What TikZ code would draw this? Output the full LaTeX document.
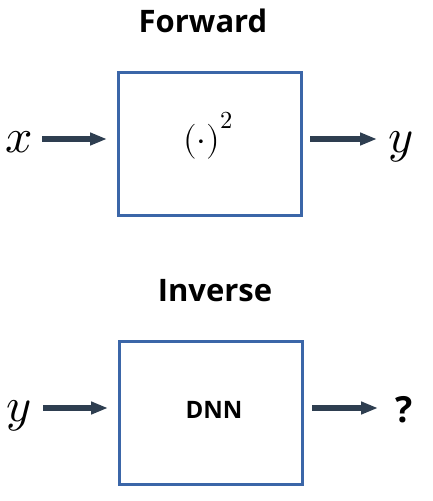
\documentclass[tikz,border=0pt]{standalone}
\usepackage{fontspec}
\setmainfont{Open Sans}
\usepackage{unicode-math}
\setmathfont{Latin Modern Math}
\usetikzlibrary{arrows.meta}
\definecolor{boxblue}{RGB}{59,102,168}
\definecolor{arrdark}{RGB}{46,62,80}
\tikzset{
  blk/.style={draw=boxblue, line width=3pt, minimum width=183pt, minimum height=143pt, inner sep=0pt},
  arr/.style={draw=arrdark, line width=6.5pt, -{Triangle[length=17pt,width=12pt]}},
  ttl/.style={font=\fontsize{31}{36}\selectfont\bfseries},
  var/.style={font=\fontsize{48}{52}\selectfont, anchor=base},
}
\begin{document}
\begin{tikzpicture}[x=1pt,y=-1pt]
\useasboundingbox (0,0) rectangle (432,501);
% titles
\node[ttl] (tf) at (203,21) {Forward};
\node[ttl] (ti) at (215,291) {Inverse};
% boxes
\node[blk] (b1) at (210,143.5) {};
\node[blk] (b2) at (210.5,412.5) {};
\node[font=\fontsize{35}{40}\selectfont] (sq) at (208,136) {$(\cdot)^{\raisebox{9pt}{$\scriptstyle 2$}}$};
\node[font=\fontsize{24}{28}\selectfont\bfseries] (dnn) at (214,410) {DNN};
% labels
\node[var] (xl) at (19,152) {$x$};
\node[var] (yl) at (401,152) {$y$};
\node[var] (yl2) at (19,421) {$y$};
\node[font=\fontsize{36}{40}\selectfont\bfseries] (q) at (404,410) {?};
% connector ends
\coordinate (a1s) at (42,139);
\coordinate (a1e) at (107,139);
\coordinate (a2s) at (310,139);
\coordinate (a2e) at (377,139);
\coordinate (a3s) at (43,408);
\coordinate (a3e) at (108,408);
\coordinate (a4s) at (312,408);
\coordinate (a4e) at (378,408);
\draw[arr] (a1s) -- (a1e);
\draw[arr] (a2s) -- (a2e);
\draw[arr] (a3s) -- (a3e);
\draw[arr] (a4s) -- (a4e);
\end{tikzpicture}
\end{document}
